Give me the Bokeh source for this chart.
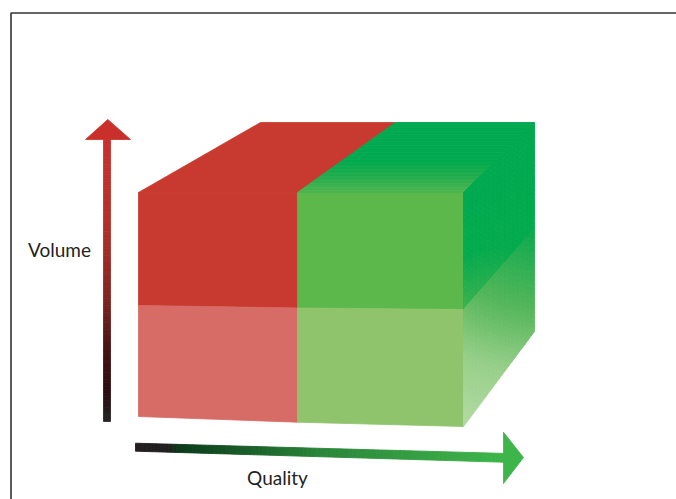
from bokeh.plotting import figure
from bokeh.models import Range1d
from bokeh.embed import file_html
from bokeh.resources import INLINE
from bokeh.core.properties import value
import numpy as np

# ---- diagram geometry (page pixels, y grows downward) ----
# front face corners of the box, split into two columns and two rows
front_x = [138, 297, 463]            # left edge, column split, right edge
front_top_y = [192, 192, 192]
front_mid_y = [305, 307.5, 309]
front_bot_y = [416, 421.7, 426]
# back edge of the top face and the back side of the right face
back_x = [260, 395, 534]
back_top_y = 122
back_mid_y = 228
back_bot_y = 331

# face colours
red_dark = "#c83a30"
red_light = "#d76b66"
green_front = "#5cb84b"
green_light = "#8fc46d"
green_deep = "#00a94f"

# axis arrows
vol_arrow_x = [103, 110]             # shaft left / right
vol_arrow_y = [139, 421]             # shaft top / bottom
vol_head = dict(tip=(107.3, 119), base_y=139, base_x=(85, 130))
vol_stops = [(0.0, "#c9302c"), (0.3, "#b43029"), (0.55, "#842723"),
             (0.75, "#451214"), (0.9, "#2a0d0f"), (1.0, "#262424")]

qual_arrow_start = (135, 446.7)
qual_arrow_end = (503, 457.3)
qual_shaft_half = [4.0, 4.4]
qual_head = dict(tip=(523, 457), base_x=503, base_y=(431.7, 483))
qual_stops = [(0.0, "#231f20"), (0.09, "#231f20"), (0.12, "#0b3a1b"),
              (0.5, "#2a8539"), (0.85, "#39a846"), (1.0, "#3db54a")]

labels = ["Volume", "Quality"]
label_pos = [(59, 248.5), (277, 476.5)]


def hex_to_rgb(h):
    h = h.lstrip("#")
    return np.array([int(h[i:i + 2], 16) for i in (0, 2, 4)], dtype=float)


def ramp(stops, t):
    t = float(np.clip(t, 0, 1))
    for (t0, c0), (t1, c1) in zip(stops[:-1], stops[1:]):
        if t <= t1:
            f = 0 if t1 == t0 else (t - t0) / (t1 - t0)
            c = hex_to_rgb(c0) * (1 - f) + hex_to_rgb(c1) * f
            return "#%02x%02x%02x" % tuple(int(round(v)) for v in c)
    return stops[-1][1]


W, H = 676, 499
p = figure(width=W, height=H, x_range=Range1d(0, W), y_range=Range1d(H, 0),
           output_backend="svg", toolbar_location=None, min_border=0,
           background_fill_color="white", border_fill_color="white")
p.axis.visible = False
p.grid.visible = False
p.outline_line_color = None

# frame corner
p.line([10.5, 10.5, W], [H, 12.5, 12.5], line_color="#333333", line_width=1.6)


def solid(xs, ys, color):
    p.patch(xs, ys, fill_color=color, line_color=color, line_width=0.8)


def gradient_cells(xs_list, ys_list, colors):
    p.patches(xs_list, ys_list, fill_color=colors, line_color=colors, line_width=0.9)


# ---- front face: four blocks ----
solid([front_x[0], front_x[1], front_x[1], front_x[0]],
      [front_top_y[0], front_top_y[1], front_mid_y[1], front_mid_y[0]], red_dark)
solid([front_x[0], front_x[1], front_x[1], front_x[0]],
      [front_mid_y[0], front_mid_y[1], front_bot_y[1], front_bot_y[0]], red_light)
solid([front_x[1], front_x[2], front_x[2], front_x[1]],
      [front_top_y[1], front_top_y[2], front_mid_y[2], front_mid_y[1]], green_front)
solid([front_x[1], front_x[2], front_x[2], front_x[1]],
      [front_mid_y[1], front_mid_y[2], front_bot_y[2], front_bot_y[1]], green_light)

# ---- top face ----
solid([front_x[0], back_x[0], back_x[1], front_x[1]],
      [front_top_y[0], back_top_y, back_top_y, front_top_y[1]], red_dark)

# green part of the top face, lighter toward the front edge
top_stops = [(0.0, green_deep), (0.55, green_deep), (0.8, "#26ad4e"), (1.0, "#4fb54f")]
n = 30
xs_l, ys_l, cs = [], [], []
for i in range(n):
    a, b = i / n, (i + 1) / n
    ya = back_top_y + a * (front_top_y[1] - back_top_y)
    yb = back_top_y + b * (front_top_y[1] - back_top_y)
    xla = back_x[1] + a * (front_x[1] - back_x[1])
    xlb = back_x[1] + b * (front_x[1] - back_x[1])
    xra = back_x[2] + a * (front_x[2] - back_x[2])
    xrb = back_x[2] + b * (front_x[2] - back_x[2])
    xs_l.append([xla, xra, xrb, xlb])
    ys_l.append([ya, ya, yb, yb])
    cs.append(ramp(top_stops, (a + b) / 2))
gradient_cells(xs_l, ys_l, cs)


# ---- right face ----
def bilinear(A, B, C, D, u, v):
    return ((1 - u) * (1 - v) * A[0] + u * (1 - v) * B[0] + u * v * C[0] + (1 - u) * v * D[0],
            (1 - u) * (1 - v) * A[1] + u * (1 - v) * B[1] + u * v * C[1] + (1 - u) * v * D[1])


def shaded_face(A, B, C, D, color_fn, nu=22, nv=22):
    xs_l, ys_l, cs = [], [], []
    for i in range(nu):
        for j in range(nv):
            u0, u1 = i / nu, (i + 1) / nu
            v0, v1 = j / nv, (j + 1) / nv
            pts = [bilinear(A, B, C, D, u, v) for u, v in
                   ((u0, v0), (u1, v0), (u1, v1), (u0, v1))]
            xs_l.append([q[0] for q in pts])
            ys_l.append([q[1] for q in pts])
            cs.append(color_fn((u0 + u1) / 2, (v0 + v1) / 2))
    gradient_cells(xs_l, ys_l, cs)


upper_stops = [(0.0, green_deep), (0.55, "#05aa4e"), (1.0, "#3cb24f")]
shaded_face((front_x[2], front_top_y[2]), (back_x[2], back_top_y),
            (back_x[2], back_mid_y), (front_x[2], front_mid_y[2]),
            lambda u, v: ramp(upper_stops, v * (1 - 0.6 * u)))

lower_stops = [(0.0, "#0aa94d"), (0.4, "#55b65a"), (0.7, "#98cf8a"), (1.0, "#b3dba3")]
shaded_face((front_x[2], front_mid_y[2]), (back_x[2], back_mid_y),
            (back_x[2], back_bot_y), (front_x[2], front_bot_y[2]),
            lambda u, v: ramp(lower_stops, ((1 - u) + v) / 2))

# ---- vertical arrow (Volume) ----
n = 80
x0, x1 = vol_arrow_x
y0, y1 = vol_arrow_y
tops, bots, cs = [], [], []
for i in range(n):
    a, b = i / n, (i + 1) / n
    tops.append(y0 + a * (y1 - y0))
    bots.append(y0 + b * (y1 - y0))
    cs.append(ramp(vol_stops, (a + b) / 2))
p.quad(left=x0, right=x1, top=tops, bottom=bots, fill_color=cs, line_color=cs, line_width=0.8)
tip = vol_head["tip"]
solid([vol_head["base_x"][0], tip[0], vol_head["base_x"][1]],
      [vol_head["base_y"], tip[1], vol_head["base_y"]], ramp(vol_stops, 0))

# ---- horizontal arrow (Quality) ----
n = 90
(sx, sy), (ex, ey) = qual_arrow_start, qual_arrow_end
xs_l, ys_l, cs = [], [], []
for i in range(n):
    a, b = i / n, (i + 1) / n
    xa, xb = sx + a * (ex - sx), sx + b * (ex - sx)
    ya, yb = sy + a * (ey - sy), sy + b * (ey - sy)
    ha = qual_shaft_half[0] + a * (qual_shaft_half[1] - qual_shaft_half[0])
    hb = qual_shaft_half[0] + b * (qual_shaft_half[1] - qual_shaft_half[0])
    xs_l.append([xa, xb, xb, xa])
    ys_l.append([ya - ha, yb - hb, yb + hb, ya + ha])
    cs.append(ramp(qual_stops, (a + b) / 2))
gradient_cells(xs_l, ys_l, cs)
tip = qual_head["tip"]
solid([qual_head["base_x"], tip[0], qual_head["base_x"]],
      [qual_head["base_y"][0], tip[1], qual_head["base_y"][1]], ramp(qual_stops, 1))

# ---- labels ----
p.text(x=[q[0] for q in label_pos], y=[q[1] for q in label_pos], text=labels,
       text_font=value("Lato"), text_font_size="19px", text_color="#231f20",
       text_align="center", text_baseline="alphabetic")

open("out.html", "w").write(file_html(p, INLINE))
